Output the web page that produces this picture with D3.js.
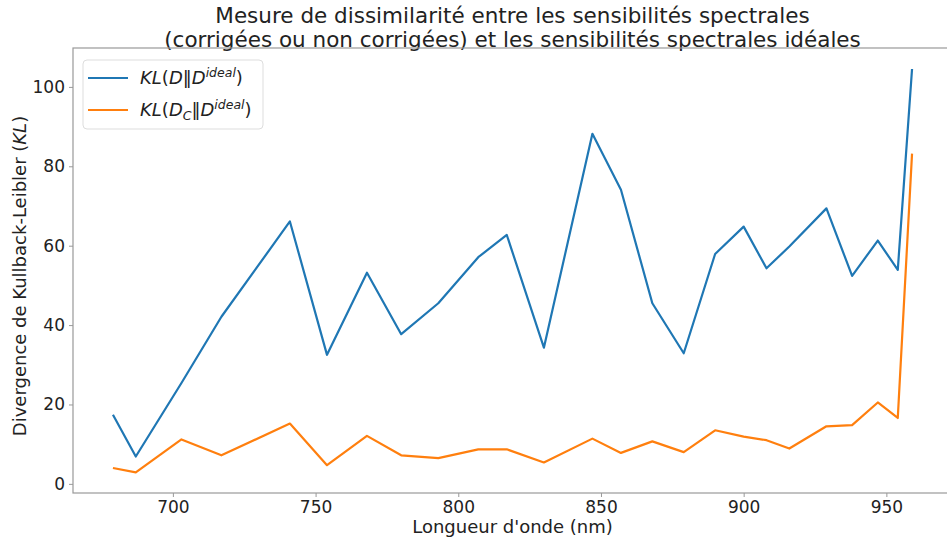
<!DOCTYPE html>
<html><head><meta charset="utf-8">
<script src="https://cdn.jsdelivr.net/npm/d3@7"></script>
<style>body{margin:0;background:#fff}svg{display:block}text{font-family:"DejaVu Sans",sans-serif;fill:#222}</style>
</head><body><svg id="c" width="947" height="541"></svg>
<script>
const wavelengths = [679, 687, 703, 717, 741, 754, 768, 780, 793, 807, 817, 830, 847, 857, 868, 879, 890, 900, 908, 916, 929, 938, 947, 954, 959];
const klRaw = [17.4, 6.9, 25.4, 42.1, 66.1, 32.5, 53.2, 37.7, 45.5, 57.1, 62.7, 34.3, 88.2, 74.1, 45.5, 32.9, 57.9, 64.8, 54.3, 59.8, 69.4, 52.4, 61.3, 53.9, 104.5];
const klCorr = [4.0, 2.9, 11.2, 7.2, 15.2, 4.7, 12.1, 7.2, 6.5, 8.7, 8.7, 5.4, 11.4, 7.8, 10.7, 8.0, 13.5, 11.9, 11.0, 8.9, 14.5, 14.8, 20.5, 16.6, 83.2];
const xTicks = [700, 750, 800, 850, 900, 950];
const yTicks = [0, 20, 40, 60, 80, 100];
const colors = ["#1f77b4", "#ff7f0e"];

const svg = d3.select("#c");
const L = 73, R = 952, T = 48, B = 493;
const x = d3.scaleLinear().domain([665, 973]).range([L, R]);
const y = d3.scaleLinear().domain([-2.3, 109.8]).range([B, T]);

// title
const title = svg.append("text").attr("text-anchor", "middle").style("font-size", "21.5px");
title.append("tspan").attr("x", (L + R) / 2).attr("y", 23).text("Mesure de dissimilarité entre les sensibilités spectrales");
title.append("tspan").attr("x", (L + R) / 2).attr("y", 47).text("(corrigées ou non corrigées) et les sensibilités spectrales idéales");

// axes
const xAxis = svg.append("g").attr("transform", `translate(0,${B})`)
  .call(d3.axisBottom(x).tickValues(xTicks).tickSize(4).tickPadding(4).tickFormat(d3.format("d")));
const yAxis = svg.append("g").attr("transform", `translate(${L},0)`)
  .call(d3.axisLeft(y).tickValues(yTicks).tickSize(4).tickPadding(4).tickFormat(d3.format("d")));
[xAxis, yAxis].forEach(g => {
  g.select(".domain").remove();
  g.selectAll(".tick line").attr("stroke", "#999");
  g.selectAll(".tick text").style("font-size", "17px").style("font-family", "DejaVu Sans").attr("fill", "#222");
});
// spines
svg.append("rect").attr("x", L).attr("y", T).attr("width", R - L).attr("height", B - T)
  .attr("fill", "none").attr("stroke", "#999").attr("stroke-width", 1.2);

// axis labels
svg.append("text").attr("x", (L + R) / 2).attr("y", 533).attr("text-anchor", "middle").style("font-size", "18px").text("Longueur d'onde (nm)");
const yl = svg.append("text").attr("transform", `translate(26,276) rotate(-90)`).attr("text-anchor", "middle").style("font-size", "18px");
yl.append("tspan").text("Divergence de Kullback-Leibler (");
yl.append("tspan").style("font-style", "italic").text("KL");
yl.append("tspan").text(")");

// lines
const line = d3.line().x((d, i) => x(wavelengths[i])).y(d => y(d));
[klRaw, klCorr].forEach((s, k) => {
  svg.append("path").datum(s).attr("d", line).attr("fill", "none")
    .attr("stroke", colors[k]).attr("stroke-width", 2.2).attr("stroke-linejoin", "round");
});

// legend
const lg = svg.append("g");
lg.append("rect").attr("x", 83).attr("y", 60).attr("width", 180).attr("height", 69).attr("rx", 4)
  .attr("fill", "#fff").attr("fill-opacity", 0.8).attr("stroke", "#ddd");
const entries = [{sub: null}, {sub: "C"}];
entries.forEach((e, i) => {
  const cy = 78 + i * 32;
  lg.append("line").attr("x1", 88).attr("x2", 128).attr("y1", cy).attr("y2", cy).attr("stroke", colors[i]).attr("stroke-width", 2.2);
  const t = lg.append("text").attr("x", 140).attr("y", cy + 6).style("font-size", "18px");
  t.append("tspan").style("font-style", "italic").text("KL");
  t.append("tspan").text("(");
  t.append("tspan").style("font-style", "italic").text("D");
  if (e.sub) {
    t.append("tspan").style("font-style", "italic").style("font-size", "12.5px").attr("dy", 4).text(e.sub);
    t.append("tspan").attr("dy", -4).text("‖");
  } else {
    t.append("tspan").text("‖");
  }
  t.append("tspan").style("font-style", "italic").text("D");
  t.append("tspan").style("font-style", "italic").style("font-size", "12.5px").attr("dy", -7).text("ideal");
  t.append("tspan").attr("dy", 7).text(")");
});
</script></body></html>
